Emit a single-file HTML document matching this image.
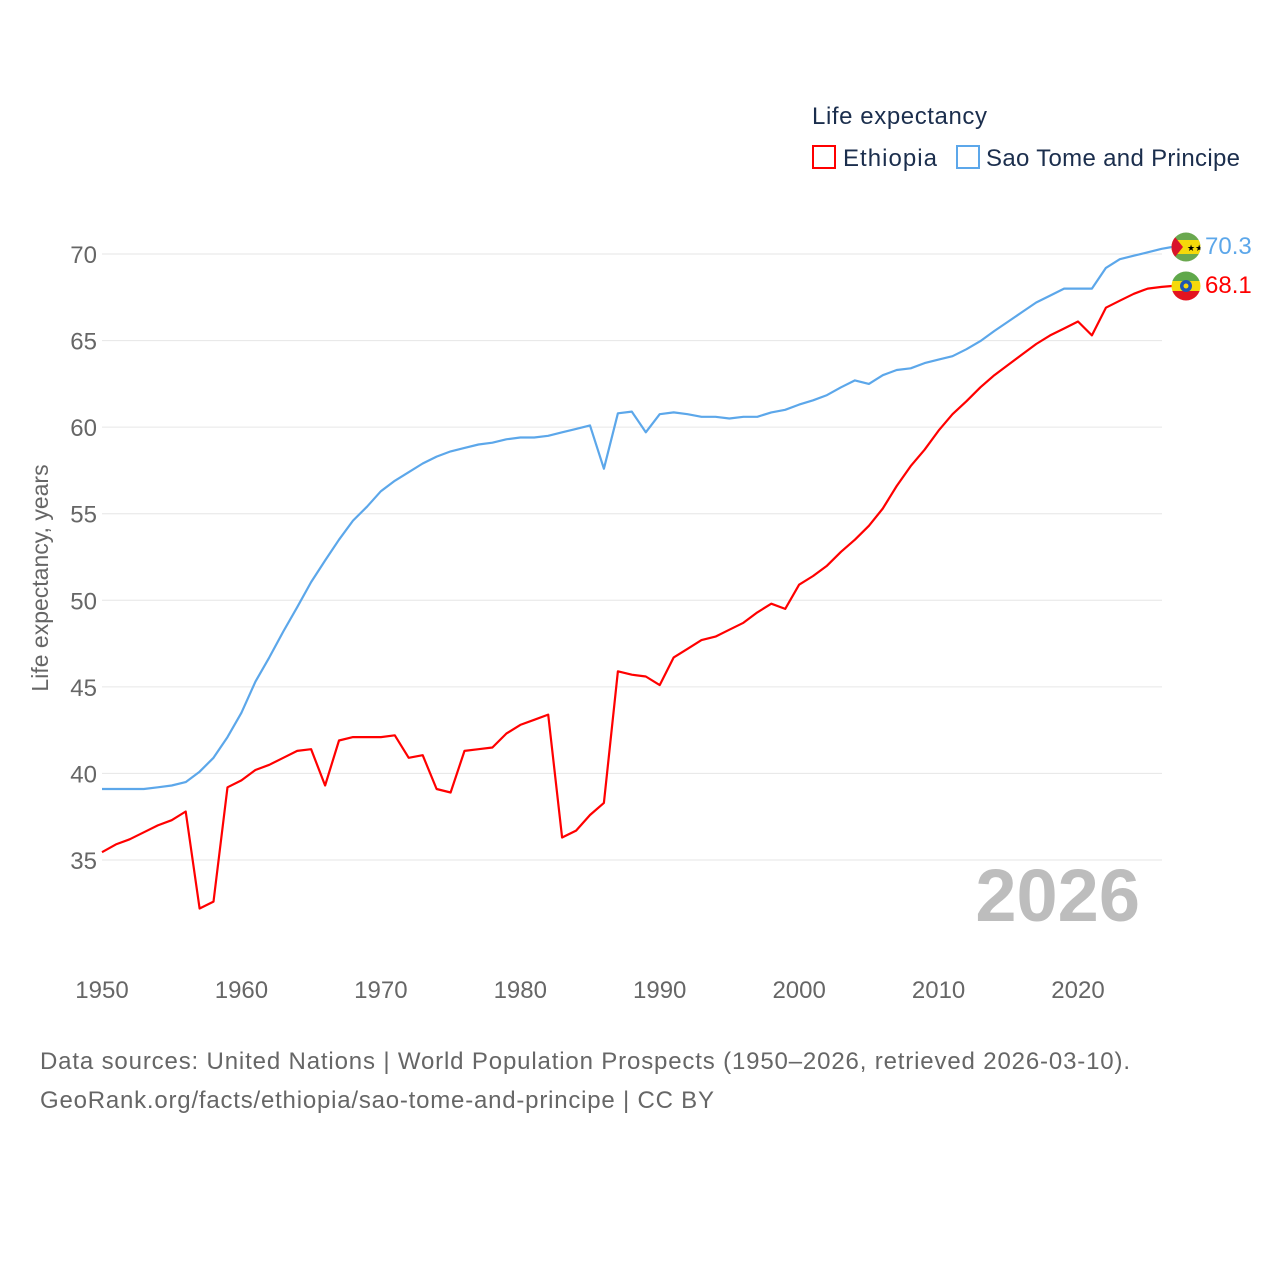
<!DOCTYPE html>
<html><head><meta charset="utf-8"><style>
html,body{margin:0;padding:0;background:#fff;}
svg{display:block;font-family:"Liberation Sans",sans-serif;}
</style></head><body>
<svg width="1280" height="1280" viewBox="0 0 1280 1280">
<g id="grid"></g>
<g id="yticks"></g>
<g id="xticks"></g>
<text x="42" y="578" transform="rotate(-90 42 578)" text-anchor="middle" dominant-baseline="middle" font-size="23" fill="#666">Life expectancy, years</text>
<text x="1140" y="921" text-anchor="end" font-size="74" font-weight="bold" fill="#bdbdbd">2026</text>
<g id="series"></g>
<g>
<text x="812" y="124" font-size="24" fill="#1b2e4d" textLength="175">Life expectancy</text>
<g>
<rect x="813" y="146" width="22" height="22" fill="none" stroke="#ff0000" stroke-width="2"/>
<text x="843" y="166" font-size="24" fill="#1b2e4d" textLength="94">Ethiopia</text></g>
<g>
<rect x="957" y="146" width="22" height="22" fill="none" stroke="#5ca7ea" stroke-width="2"/>
<text x="986" y="166" font-size="24" fill="#1b2e4d" textLength="254">Sao Tome and Principe</text></g>
</g>
<g>
<clipPath id="c1"><circle cx="1186" cy="247" r="14.5"/></clipPath>
<g clip-path="url(#c1)"><rect x="1170" y="232" width="32" height="30" fill="#6aa84f"/><rect x="1170" y="240" width="32" height="14" fill="#f5d90a"/><polygon points="1171,232 1183,247 1171,262" fill="#d9142a"/><text x="1187" y="251" font-size="9" fill="#000">★★</text></g></g>
<g>
<clipPath id="c2"><circle cx="1186" cy="286" r="14.5"/></clipPath>
<g clip-path="url(#c2)"><rect x="1170" y="271" width="32" height="10" fill="#5fa84a"/><rect x="1170" y="281" width="32" height="10" fill="#f5d90a"/><rect x="1170" y="291" width="32" height="10" fill="#e3141f"/><circle cx="1186" cy="286" r="6" fill="#1f56b3"/><circle cx="1186" cy="286" r="2.5" fill="#f5d90a"/></g></g>
<text x="1205" y="254" font-size="24" fill="#5ca7ea">70.3</text>
<text x="1205" y="293" font-size="24" fill="#ff0000">68.1</text>
<text x="40" y="1069" font-size="24" fill="#666" textLength="1090">Data sources: United Nations | World Population Prospects (1950–2026, retrieved 2026-03-10).</text>
<text x="40" y="1108" font-size="24" fill="#666" textLength="674">GeoRank.org/facts/ethiopia/sao-tome-and-principe | CC BY</text>
</svg>
<script>
const years = [];
for (let y = 1950; y <= 2026; y++) years.push(y);
const ethiopia = [35.45,35.9,36.2,36.6,37.0,37.3,37.8,32.2,32.6,39.2,39.6,40.2,40.5,40.9,41.3,41.4,39.3,41.9,42.1,42.1,42.1,42.2,40.9,41.05,39.1,38.9,41.3,41.4,41.5,42.3,42.8,43.1,43.4,36.3,36.7,37.6,38.3,45.9,45.7,45.6,45.1,46.7,47.2,47.7,47.9,48.3,48.7,49.3,49.8,49.5,50.9,51.4,52.0,52.8,53.5,54.3,55.3,56.6,57.75,58.7,59.8,60.75,61.5,62.3,63.0,63.6,64.2,64.8,65.3,65.7,66.1,65.3,66.9,67.3,67.7,68.0,68.1];
const saoTome = [39.1,39.1,39.1,39.1,39.2,39.3,39.5,40.1,40.9,42.1,43.5,45.3,46.7,48.2,49.6,51.05,52.3,53.5,54.6,55.4,56.3,56.9,57.4,57.9,58.3,58.6,58.8,59.0,59.1,59.3,59.4,59.4,59.5,59.7,59.9,60.1,57.6,60.8,60.9,59.7,60.75,60.85,60.75,60.6,60.6,60.5,60.6,60.6,60.85,61.0,61.3,61.55,61.85,62.3,62.7,62.5,63.0,63.3,63.4,63.7,63.9,64.1,64.5,64.97,65.55,66.1,66.65,67.2,67.6,68.0,68.0,68.0,69.2,69.7,69.9,70.1,70.3];
const yTicks = [35,40,45,50,55,60,65,70];
const xTicks = [1950,1960,1970,1980,1990,2000,2010,2020];
const NS = "http://www.w3.org/2000/svg";
const x = v => 102 + (v - 1950) * (976 / 70);
const y = v => 254 + (70 - v) * (606 / 35);
const grid = document.getElementById('grid'), yt = document.getElementById('yticks'), xt = document.getElementById('xticks'), ser = document.getElementById('series');
yTicks.forEach(t => {
  const l = document.createElementNS(NS, 'line');
  l.setAttribute('x1', 102); l.setAttribute('x2', 1162);
  l.setAttribute('y1', y(t)); l.setAttribute('y2', y(t));
  l.setAttribute('stroke', '#e6e6e6'); l.setAttribute('stroke-width', 1);
  
  
  grid.appendChild(l);
  const tx = document.createElementNS(NS, 'text');
  tx.setAttribute('x', 97); tx.setAttribute('y', y(t) + 9);
  tx.setAttribute('text-anchor', 'end'); tx.setAttribute('font-size', 24); tx.setAttribute('fill', '#666');
  tx.textContent = t;
  
  
  yt.appendChild(tx);
});
xTicks.forEach(t => {
  const tx = document.createElementNS(NS, 'text');
  tx.setAttribute('x', x(t)); tx.setAttribute('y', 998);
  tx.setAttribute('text-anchor', 'middle'); tx.setAttribute('font-size', 24); tx.setAttribute('fill', '#666');
  tx.textContent = t;
  
  
  xt.appendChild(tx);
});
function drawLine(vals, color, name, flagY) {
  const p = document.createElementNS(NS, 'polyline');
  const pts = vals.map((v, i) => x(years[i]).toFixed(1) + ',' + y(v).toFixed(1));
  pts.push('1172,' + flagY);
  p.setAttribute('points', pts.join(' '));
  p.setAttribute('fill', 'none'); p.setAttribute('stroke', color); p.setAttribute('stroke-width', 2.2);
  p.setAttribute('stroke-linejoin', 'round');
  
  
  ser.appendChild(p);
}
drawLine(saoTome, '#5ca7ea', 'line-sao-tome-and-principe', 247);
drawLine(ethiopia, '#ff0000', 'line-ethiopia', 286);
</script>
</body></html>
